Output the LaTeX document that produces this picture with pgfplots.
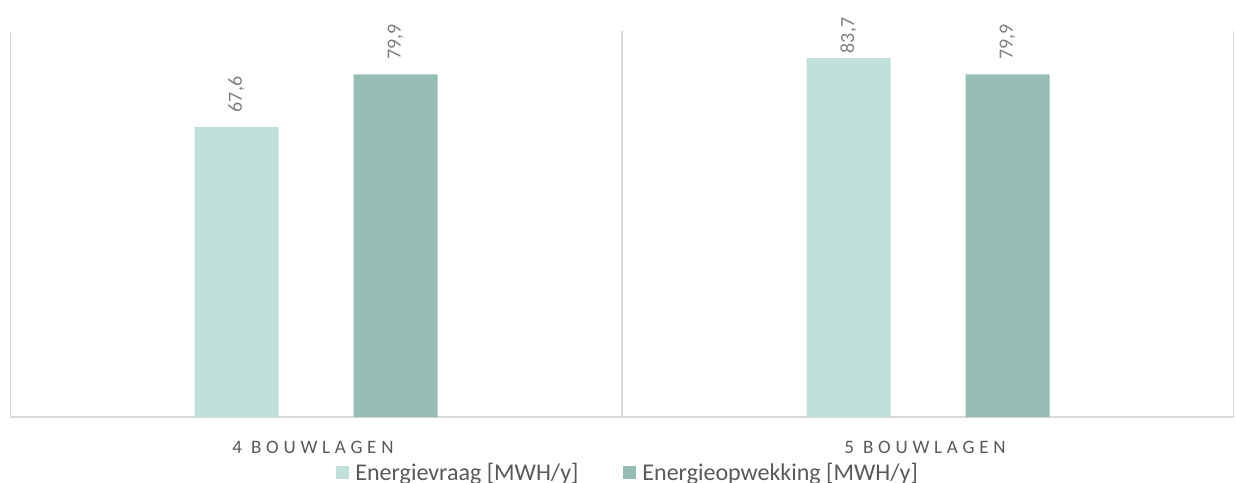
\documentclass[border=0pt]{standalone}
\usepackage{pgfplots}
\pgfplotsset{compat=1.18}
\usepackage{fontspec}
\setmainfont{Carlito}
\newfontfamily\spaced[LetterSpace=25]{Carlito}

\definecolor{vraag}{RGB}{194,224,218}
\definecolor{opwek}{RGB}{149,189,180}
\definecolor{framegray}{RGB}{217,217,217}
\definecolor{labelgray}{RGB}{89,89,89}
\definecolor{valgray}{RGB}{127,127,127}

\begin{document}
\begin{tikzpicture}
\begin{axis}[
  at={(10pt,65pt)}, anchor=south west,
  scale only axis, width=1224pt, height=386pt,
  xmin=-0.5, xmax=1.5, ymin=0, ymax=90,
  axis line style={draw=none},
  xtick={0,1}, xticklabels={4 BOUWLAGEN, 5 BOUWLAGEN},
  xticklabel style={font=\spaced\fontsize{19}{22}\selectfont, text=labelgray, yshift=-21pt, xshift=-3pt},
  ytick=\empty,
  major tick length=0pt,
  ybar, bar width=84pt,
  /pgf/number format/.cd, use comma, fixed, fixed zerofill, precision=1, assume math mode=true,
  /pgfplots/.cd,
  nodes near coords,
  every node near coord/.append style={yshift=\myoff pt, rotate=90, anchor=west,
    font=\fontsize{20}{24}\selectfont, text=valgray},
  legend columns=2,
  legend style={draw=none, fill=none, at={(0.505,-0.1438)}, anchor=center,
    font=\fontsize{24}{28}\selectfont, text=labelgray,
    /tikz/every even column/.append style={column sep=43pt}},
]
% frame: left, bottom, right and the category divider
\draw[framegray, line width=1.5pt] (rel axis cs:0,1) -- (rel axis cs:0,0) -- (rel axis cs:1,0) -- (rel axis cs:1,1);
\draw[framegray, line width=1.5pt] (rel axis cs:0.5,0) -- (rel axis cs:0.5,1);

\addplot[fill=vraag, draw=none, bar shift=-79.5pt,
  visualization depends on={\thisrow{off} \as \myoff},
  legend image code/.code={\fill[vraag] (0pt,-6.5pt) rectangle (13pt,6.5pt); \path (13pt,0pt) -- (17pt,0pt);}]
  table[x=x, y=y] {
x y off
0 67.6 11.3
1 83.7 1.3
};
\addlegendentry{Energievraag [MWH/y]}

\addplot[fill=opwek, draw=none, bar shift=79.5pt,
  visualization depends on={\thisrow{off} \as \myoff},
  legend image code/.code={\fill[opwek] (0pt,-6.5pt) rectangle (13pt,6.5pt); \path (13pt,0pt) -- (17pt,0pt);}]
  table[x=x, y=y] {
x y off
0 79.9 11.3
1 79.9 11.3
};
\addlegendentry{Energieopwekking [MWH/y]}
\end{axis}
\pgfresetboundingbox
\useasboundingbox (0,0) rectangle (1236pt,482pt);
\end{tikzpicture}
\end{document}
